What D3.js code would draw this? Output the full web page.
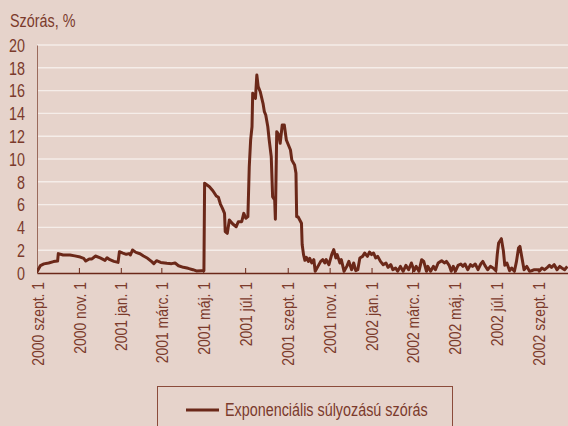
<!DOCTYPE html>
<html>
<head>
<meta charset="utf-8">
<script src="https://cdn.jsdelivr.net/npm/d3@7"></script>
<style>
  html, body { margin: 0; padding: 0; background: #e6d3cb; }
  svg { display: block; }
  text { font-family: 'Liberation Sans', Arial, sans-serif; fill: #7b3a2b; }
</style>
</head>
<body>
<script>
// napi adatok (leolvasva), évenként
const days2000 = ["09-01","09-06","09-11","09-18","09-25","10-01","10-02","10-09","10-19","10-26",
  "11-03","11-08","11-11","11-16","11-20","11-25","12-02","12-09","12-12","12-16",
  "12-22","12-28","12-30"];
const vals2000 = [0.10,0.65,0.80,0.88,1.00,1.05,1.70,1.58,1.58,1.50,
  1.40,1.29,1.05,1.23,1.23,1.49,1.32,1.11,1.34,1.17,
  1.02,0.93,1.87];

const days2001 = ["01-04","01-09","01-13","01-15","01-18","01-23","01-29","02-03","02-09","02-15",
  "02-18","02-22","02-28","03-09","03-16","03-21","03-26","04-02","04-09","04-16",
  "04-21","04-28","05-02","05-03","05-07","05-10","05-15","05-20","05-23","05-26",
  "05-29","06-01","06-02","06-05","06-08","06-13","06-18","06-21","06-26","06-29",
  "07-02","07-05","07-07","07-09","07-11","07-12","07-16","07-18","07-20","07-23",
  "07-27","07-29","07-31","08-03","08-05","08-08","08-10","08-13","08-14","08-16",
  "08-19","08-21","08-24","08-27","08-30","09-02","09-05","09-07","09-11","09-13",
  "09-14","09-16","09-21","09-22","09-24","09-26","09-28","10-01","10-03","10-06",
  "10-09","10-11","10-15","10-19","10-22","10-25","10-27","10-31","11-04","11-07",
  "11-10","11-12","11-16","11-18","11-22","11-26","11-29","12-03","12-06","12-09",
  "12-12","12-15","12-19","12-22","12-26","12-29"];
const vals2001 = [1.75,1.64,1.70,1.58,2.02,1.81,1.69,1.49,1.29,0.99,
  0.82,1.08,0.93,0.85,0.82,0.88,0.64,0.50,0.41,0.29,
  0.18,0.20,0.20,7.87,7.70,7.57,7.22,6.75,6.64,6.05,
  5.67,5.23,3.63,3.48,4.65,4.30,4.06,4.50,4.50,5.23,
  4.80,4.94,9.33,11.67,12.83,15.76,15.32,17.37,16.35,15.90,
  14.88,14.15,13.86,12.83,11.67,10.20,6.70,6.40,4.71,12.40,
  12.10,11.38,12.98,12.98,11.67,11.23,10.79,9.90,9.47,8.74,
  4.94,4.94,4.36,2.50,1.61,1.11,1.38,1.02,1.29,0.88,
  1.17,0.15,0.58,1.02,1.17,0.88,1.17,0.73,1.61,2.05,
  1.32,1.61,0.88,1.17,0.15,0.58,1.02,0.29,0.88,0.20,
  0.29,1.32,1.46,1.75,1.46,1.84];

const days2002 = ["01-01","01-04","01-07","01-10","01-14","01-18","01-22","01-25","01-29","02-01",
  "02-05","02-08","02-12","02-16","02-20","02-24","02-28","03-04","03-07","03-11",
  "03-15","03-18","03-22","03-24","03-28","04-01","04-04","04-08","04-13","04-17",
  "04-20","04-24","04-27","04-30","05-03","05-07","05-11","05-14","05-17","05-21",
  "05-25","05-28","06-01","06-05","06-09","06-12","06-15","06-19","06-23","06-27",
  "07-01","07-03","07-05","07-09","07-12","07-14","07-17","07-21","07-24","07-28",
  "07-31","08-03","08-05","08-08","08-11","08-15","08-19","08-22","08-26","08-30",
  "09-03","09-06","09-10","09-14","09-17","09-20","09-24","09-28","10-02","10-05",
  "10-09","10-13"];
const vals2002 = [1.61,1.75,1.32,1.46,1.02,0.73,0.88,0.50,0.73,0.29,
  0.44,0.15,0.58,0.15,0.67,0.29,0.88,0.20,0.58,0.15,
  1.17,1.02,0.15,0.58,0.15,0.58,0.29,0.88,1.08,0.88,
  1.02,0.67,0.15,0.58,0.15,0.67,0.79,0.58,0.79,0.29,
  0.73,0.58,0.79,0.29,0.79,1.02,0.67,0.29,0.58,0.44,
  0.20,1.61,2.63,3.01,1.90,0.67,0.88,0.20,0.44,0.15,
  1.02,2.19,2.34,1.32,0.29,0.58,0.15,0.20,0.29,0.29,
  0.20,0.44,0.29,0.50,0.67,0.50,0.73,0.29,0.58,0.44,
  0.29,0.58];

const yTicks = [0,2,4,6,8,10,12,14,16,18,20];
const monthNames = ["jan.","febr.","márc.","ápr.","máj.","jún.","júl.","aug.","szept.","okt.","nov.","dec."];
const yTitle = 'Szórás, %';
const seriesName = 'Exponenciális súlyozású szórás';

const parse = d3.timeParse('%Y-%m-%d');
const data = [];
[[2000,days2000,vals2000],[2001,days2001,vals2001],[2002,days2002,vals2002]].forEach(([yr,ds,vs])=>{
  ds.forEach((d,i)=>data.push({date: parse(yr + '-' + d), value: vs[i]}));
});

const W = 568, H = 426;
const margin = {top:45, left:37};
const innerW = W - margin.left;
const innerH = 228;
const narrow = 0.82; // "Arial Narrow" hatás: vízszintes összenyomás

const svg = d3.select('body').append('svg').attr('width',W).attr('height',H);
svg.append('rect').attr('width',W).attr('height',H).attr('fill','#e6d3cb');

const x = d3.scaleTime().domain([parse('2000-09-01'), parse('2002-10-14')]).range([0,innerW]);
const y = d3.scaleLinear().domain([0,20]).range([innerH,0]);

const g = svg.append('g').attr('transform',`translate(${margin.left},${margin.top})`);

// rácsvonalak
g.selectAll('.grid').data(yTicks.filter(t=>t>0)).enter()
  .append('line')
  .attr('x1',0).attr('x2',innerW)
  .attr('y1',d=>y(d)).attr('y2',d=>y(d))
  .attr('stroke','#f5ede9').attr('stroke-width',1.4);

// y tengely
const yAxisG = g.append('g').call(d3.axisLeft(y).tickValues(yTicks).tickSize(0));
yAxisG.select('.domain').attr('stroke','#9a6a5c').attr('stroke-width',1);
yAxisG.selectAll('text').style('font-size','17.5px').attr('fill','#7b3a2b')
  .attr('x', -12/narrow).attr('dy','0.36em').attr('transform',`scale(${narrow},1)`);

// vonal
g.append('clipPath').attr('id','clip').append('rect').attr('x',0).attr('y',-10).attr('width',innerW).attr('height',innerH+10);
const line = d3.line().x(d=>x(d.date)).y(d=>y(d.value));
g.append('path').datum(data)
  .attr('clip-path','url(#clip)')
  .attr('fill','none').attr('stroke','#6b2819').attr('stroke-width',3)
  .attr('stroke-linejoin','round')
  .attr('d',line);

// x tengely
const fmt = d => `${d.getFullYear()} ${monthNames[d.getMonth()]} 1`;
const xAxis = d3.axisBottom(x).ticks(d3.timeMonth.every(2)).tickFormat(fmt).tickSizeInner(-5).tickSizeOuter(0).tickPadding(0);
const xAxisG = g.append('g').attr('transform',`translate(0,${innerH})`).call(xAxis);
xAxisG.select('.domain').attr('stroke','#6b2819').attr('stroke-width',1.5);
xAxisG.selectAll('.tick line').attr('stroke','#6b2819').attr('stroke-width',1);
xAxisG.selectAll('text')
  .style('font-size','17px').attr('fill','#7b3a2b')
  .attr('text-anchor','end')
  .attr('transform',`rotate(-90) scale(${narrow},1)`)
  .attr('x',-9/narrow).attr('y',0).attr('dy','0.36em');

// tengelycím
svg.append('text').text(yTitle).attr('transform',`translate(10,27) scale(${narrow},1)`).style('font-size','17.5px');

// jelmagyarázat
const lg = svg.append('g');
lg.append('rect').attr('x',157.5).attr('y',386.5).attr('width',295).attr('height',60)
  .attr('fill','none').attr('stroke','#8b4b3b').attr('stroke-width',1);
lg.append('line').attr('x1',186).attr('x2',219).attr('y1',410).attr('y2',410)
  .attr('stroke','#6b2819').attr('stroke-width',3);
lg.append('text').text(seriesName).attr('transform',`translate(225,416) scale(${narrow},1)`).style('font-size','17.5px');
</script>
</body>
</html>
